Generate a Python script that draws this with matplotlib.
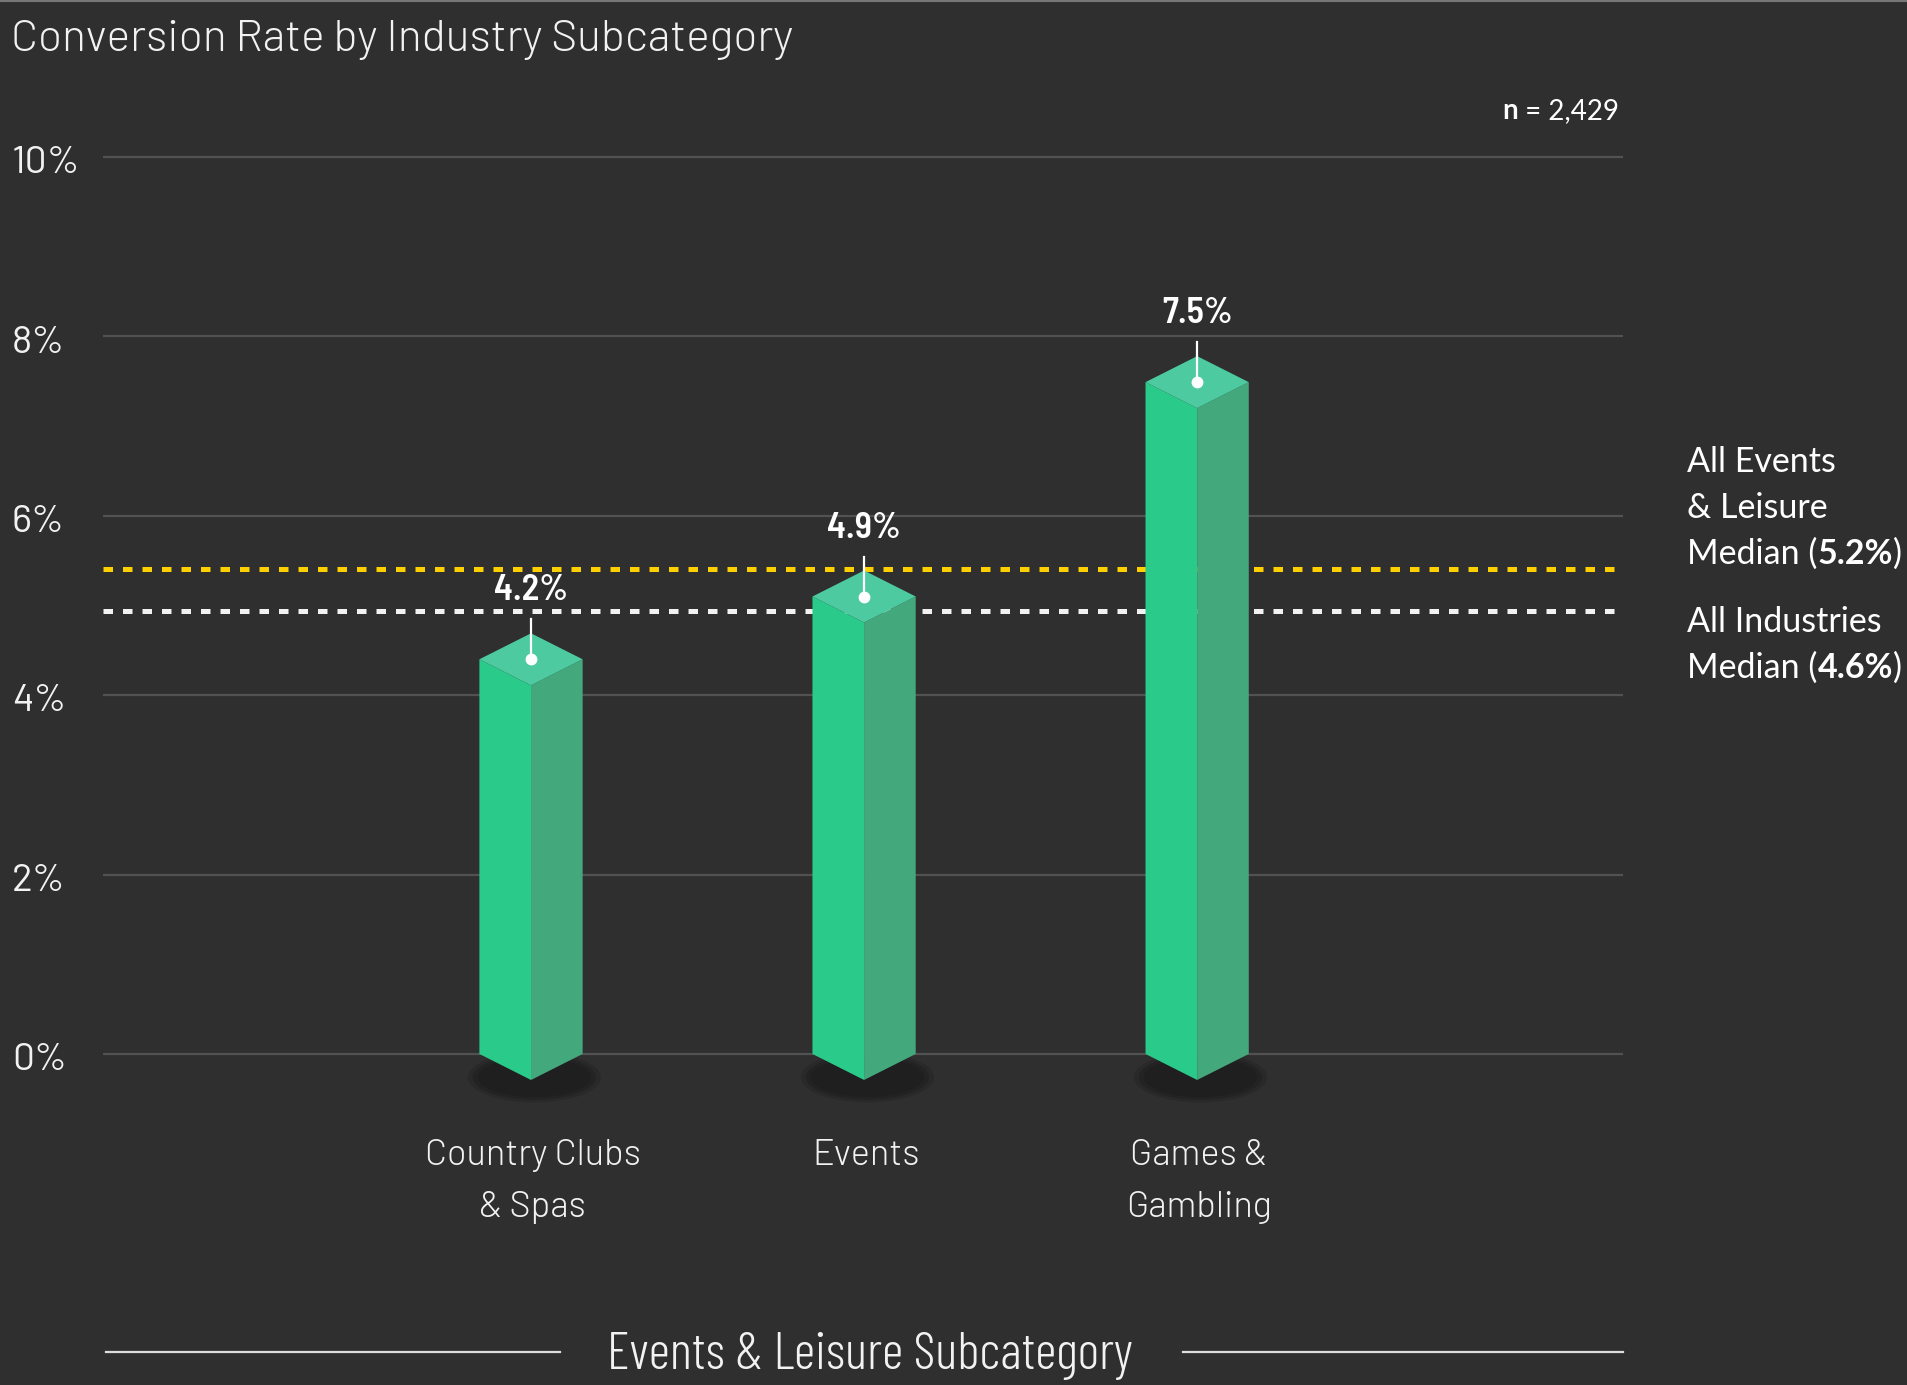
import matplotlib
matplotlib.use('Agg')  # non-interactive backend

import matplotlib.pyplot as plt
from matplotlib import font_manager as fm
from matplotlib.lines import Line2D
from matplotlib.patches import Polygon, Ellipse

# Data
categories = ['Country Clubs\n& Spas', 'Events', 'Games &\nGambling']
value_labels = ['4.2%', '4.9%', '7.5%']
bar_heights = [4.4, 5.1, 7.49]           # where the bars are drawn in the picture
median_levels = [5.41, 4.94]             # where the dashed lines sit
median_colors = ['#ffd000', '#f2f2f2']
median_texts = [
    [[('All Events', 'normal')], [('& Leisure', 'normal')],
     [('Median (', 'normal'), ('5.2%', 'bold'), (')', 'normal')]],
    [[('All Industries', 'normal')],
     [('Median (', 'normal'), ('4.6%', 'bold'), (')', 'normal')]],
]
median_text_y = [6.485, 4.705]           # baseline of first line
y_ticks = [0, 2, 4, 6, 8, 10]

BG = '#2f2f2f'
GRID = '#525252'
FACE_L = '#2aca8a'
FACE_R = '#43a97d'
FACE_T = '#4dcaa0'
TXT = '#f2f2f2'

fonts = fm.fontManager.ttflist


def pick(*names, need_bold=False):
    for n in names:
        weights = {f.weight for f in fonts if f.name == n and f.style == 'normal'}
        if not weights:
            continue
        if need_bold and not (400 in weights and 700 in weights):
            continue
        return n
    return 'DejaVu Sans'


BARLOW = pick('Barlow', 'Barlow Semi Condensed')
SEMI = pick('Barlow Semi Condensed', 'Barlow')
CONDENSED = pick('Barlow Condensed', 'Barlow Semi Condensed')
SANS = pick('Source Sans 3', 'Source Sans Pro', 'Lato', need_bold=True)

fig = plt.figure(figsize=(19.08, 13.85), dpi=100, facecolor=BG)
ax = fig.add_axes([0.054, 0.1613, 0.7967, 0.7383], facecolor=BG)
ax.set_xlim(-1.285, 3.279)
ax.set_ylim(-1.2, 10.2)
ax.axis('off')
ytr = ax.get_yaxis_transform()

# gridlines + tick labels
for t in y_ticks:
    ax.axhline(t, color=GRID, lw=1.6, zorder=1)
    ax.text(-0.0599, t - 0.18, f'{t}%', transform=ytr, ha='left', va='baseline',
            color=TXT, fontsize=28, family=BARLOW, fontweight=400)

# median lines
for lvl, col in zip(median_levels, median_colors):
    ax.axhline(lvl, color=col, lw=3.6, ls=(0, (1.9, 2.0)), zorder=2)

# 3D-looking bars
w = 0.155   # half width
d = 0.29    # depth offset of diamond
for i, h in enumerate(bar_heights):
    for sw, sh, a in [(0.40, 0.56, 0.35), (0.37, 0.50, 0.6), (0.34, 0.44, 1.0)]:
        ax.add_patch(Ellipse((i + 0.01, -0.26), sw, sh, color='#1f1f20', alpha=a,
                             lw=0, zorder=3))
    ax.add_patch(Polygon([(i - w, 0), (i, -d), (i, h - d), (i - w, h)],
                         closed=True, color=FACE_L, lw=0, zorder=4))
    ax.add_patch(Polygon([(i, -d), (i + w, 0), (i + w, h), (i, h - d)],
                         closed=True, color=FACE_R, lw=0, zorder=4))
    ax.add_patch(Polygon([(i - w, h), (i, h - d), (i + w, h), (i, h + d)],
                         closed=True, color=FACE_T, lw=0, zorder=5))
    # pointer + value label
    ax.plot([i, i], [h, h + 0.445], color='white', lw=1.6, zorder=6)
    ax.plot(i, h, 'o', color='white', ms=7.5, zorder=7)
    ax.text(i, h + 0.656, value_labels[i], ha='center', va='baseline',
            color='white', fontsize=26, fontweight=600, family=SEMI, zorder=7)
    # category label, one line at a time (52 px line step)
    for k, line in enumerate(categories[i].split('\n')):
        ax.annotate(line, xy=(i + 0.005, -1.235), xytext=(0, -37.4 * k),
                    textcoords='offset points', ha='center', va='baseline',
                    color=TXT, fontsize=26, family=BARLOW, fontweight=300,
                    annotation_clip=False)


def rich_line(x, y, runs, size, dy_pt=0.0):
    prev = None
    for txt, weight in runs:
        if prev is None:
            prev = ax.annotate(txt, xy=(x, y), xycoords=ytr, xytext=(0, dy_pt),
                               textcoords='offset points', ha='left', va='baseline',
                               color='white', fontsize=size, family=SANS,
                               fontweight=weight, annotation_clip=False)
        else:
            prev = ax.annotate(txt, xy=(1, 0), xycoords=prev, ha='left', va='bottom',
                               color='white', fontsize=size, family=SANS,
                               fontweight=weight, annotation_clip=False)


# right-hand median annotations (46 px line step)
for block, y0 in zip(median_texts, median_text_y):
    for k, runs in enumerate(block):
        rich_line(1.0422, y0, runs, 24.5, dy_pt=-33.1 * k)

# sample size, right aligned
n_val = ax.text(0.9974, 10.42, ' = 2,429', transform=ytr, ha='right', va='baseline',
                color='white', fontsize=20, family=SANS)
ax.annotate('n', xy=(0, 0), xycoords=n_val, ha='right', va='bottom', color='white',
            fontsize=20, family=SANS, fontweight='bold')

# title
fig.text(0.006, 0.9632, 'Conversion Rate by Industry Subcategory', ha='left',
         va='baseline', color=TXT, fontsize=32, family=BARLOW, fontweight=300)

# bottom caption with side rules
fig.text(0.456, 0.0116, 'Events & Leisure Subcategory', ha='center', va='baseline',
         color=TXT, fontsize=38, family=CONDENSED, fontweight=300)
fig.add_artist(Line2D([0.0555, 0.2935], [0.0238, 0.0238], color='#dddddd', lw=1.6))
fig.add_artist(Line2D([0.620, 0.8507], [0.0238, 0.0238], color='#dddddd', lw=1.6))
fig.add_artist(Line2D([0, 1], [0.9995, 0.9995], color='#777777', lw=1.5))

fig.savefig('out.png', dpi=100, facecolor=BG)
